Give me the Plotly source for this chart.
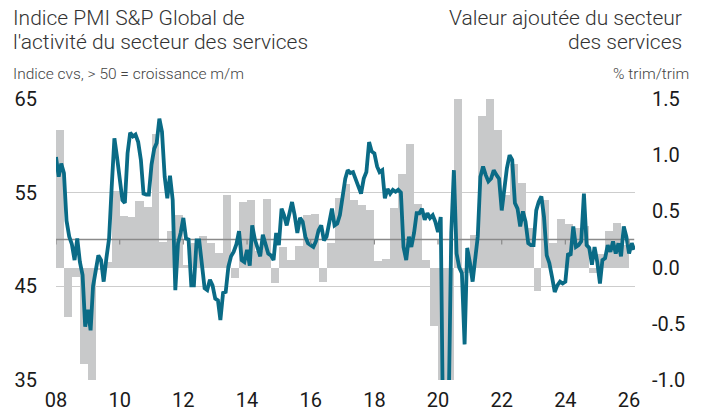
import pandas as pd
import plotly.graph_objects as go

# ---------------- data ----------------
pmi_start = "2008-01-01"
pmi_values = [
    # 2008
    58.8, 56.7, 58.1, 57.1, 52.0, 50.3, 49.5, 47.8, 50.1, 47.6, 46.2, 40.7,
    # 2009
    42.5, 40.3, 45.0, 47.0, 48.3, 47.8, 45.5, 48.0, 50.1, 55.6, 60.8, 58.8,
    # 2010
    56.5, 54.2, 53.9, 59.2, 61.4, 61.0, 61.2, 60.4, 58.5, 54.9, 54.8, 54.8,
    # 2011
    58.0, 59.7, 60.3, 62.9, 61.5, 56.7, 54.4, 56.8, 54.2, 44.6, 49.6, 50.7,
    # 2012
    52.3, 50.1, 50.0, 45.1, 45.1, 49.9, 49.9, 47.5, 44.8, 44.6, 45.7, 45.1,
    # 2013
    43.7, 43.5, 41.4, 44.3, 44.4, 47.1, 48.2, 48.7, 49.5, 50.9, 47.8, 47.6,
    # 2014
    48.9, 47.2, 51.5, 50.0, 49.0, 48.2, 50.5, 49.5, 48.5, 48.3, 47.8, 50.7,
    # 2015
    49.4, 53.3, 52.6, 51.5, 53.0, 54.0, 52.6, 50.7, 52.3, 51.9, 50.3, 49.6,
    # 2016
    49.4, 49.2, 49.8, 51.0, 51.5, 49.9, 50.3, 52.1, 53.3, 51.5, 51.7, 52.6,
    # 2017
    54.9, 56.5, 57.4, 57.1, 57.2, 56.5, 55.6, 54.9, 56.5, 57.2, 60.4, 59.4,
    # 2018
    59.2, 57.8, 57.2, 57.4, 54.4, 55.4, 54.9, 55.3, 55.1, 55.3, 55.0, 49.2,
    # 2019
    47.8, 50.3, 49.2, 50.7, 52.8, 52.8, 53.3, 52.1, 52.8, 52.3, 52.6, 51.9,
    # 2020
    50.8, 52.4, 27.4, 10.2, 31.1, 50.7, 57.4, 48.5, 47.0, 46.4, 38.8, 49.1,
    # 2021
    47.5, 45.5, 47.8, 50.3, 56.7, 57.8, 56.9, 56.2, 56.5, 57.4, 56.9, 56.5,
    # 2022
    53.1, 55.6, 57.6, 59.0, 58.5, 53.9, 53.3, 51.4, 53.0, 51.9, 49.6, 49.4,
    # 2023
    49.4, 53.1, 54.0, 54.6, 52.4, 48.3, 47.5, 46.0, 44.4, 45.1, 45.5, 45.3,
    # 2024
    45.5, 48.5, 48.3, 51.4, 49.2, 49.4, 49.8, 54.9, 49.4, 49.1, 47.3, 49.2,
    # 2025
    47.6, 45.3, 47.8, 48.0, 49.4, 48.7, 49.8, 48.5, 49.6, 48.2, 51.4, 50.3,
    # 2026
    48.5, 49.6, 48.9,
]

gva_start = "2008-01-01"
gva_values = [
    1.22, -0.44, -0.08, -0.86,   # 2008
    -1.05, -0.02, 0.05, 0.68,    # 2009
    0.46, 0.45, 0.59, 0.54,      # 2010
    1.19, 0.23, 0.33, 0.47,      # 2011
    0.02, 0.22, 0.28, 0.22,      # 2012
    0.13, 0.65, -0.09, 0.58,     # 2013
    0.60, 0.15, 0.61, -0.14,     # 2014
    0.18, 0.07, 0.19, 0.47,      # 2015
    0.48, -0.13, 0.22, 0.62,     # 2016
    0.74, 0.60, 0.56, 0.51,      # 2017
    0.06, 0.08, 0.53, 0.83,      # 2018
    1.10, 0.57, 0.07, -0.52,     # 2019
    -5.8, -13.5, 17.5, -0.05,    # 2020
    0.29, 1.35, 1.70, 1.22,      # 2021
    0.65, 0.92, 0.75, 0.35,      # 2022
    -0.21, 0.60, 0.22, 0.43,     # 2023
    0.39, 0.35, 0.37, -0.05,     # 2024
    0.12, 0.33, 0.40, 0.20,      # 2025
]

threshold = 50
tick_years = list(range(2008, 2027, 2))
tick_labels = [f"{y % 100:02d}" for y in tick_years]
left_ticks = [35, 45, 55, 65]
left_labels = ["35", "45", "55", "65"]
right_ticks = [-1.0, -0.5, 0.0, 0.5, 1.0, 1.5]
right_labels = ["-1.0", "-0.5", "0.0", "0.5", "1.0", "1.5"]

# ---------------- derived ----------------
months = pd.date_range(pmi_start, periods=len(pmi_values), freq="MS")
q_start = pd.date_range(gva_start, periods=len(gva_values), freq="QS")
q_end = q_start + pd.offsets.QuarterBegin(startingMonth=1)
q_mid = q_start + (q_end - q_start) / 2
q_width = [(e - s).total_seconds() * 1000 for s, e in zip(q_start, q_end)]
tick_dates = [pd.Timestamp(f"{y}-01-01") for y in tick_years]

TEAL = "#0a6b86"
BARGREY = "#c8c9ca"
GRID = "#cdcdcd"
FONT = "Roboto"

W, H = 707, 416
L, R, T, B = 56, 72, 99, 36
PW, PH = W - L - R, H - T - B


def px(x):
    return (x - L) / PW


def py(y):
    return (H - B - y) / PH


fig = go.Figure()

fig.add_trace(go.Bar(
    x=q_mid, y=gva_values, width=q_width,
    marker=dict(color=BARGREY, line=dict(width=0)),
    yaxis="y", hoverinfo="skip", showlegend=False,
))

fig.add_trace(go.Scatter(
    x=[months[0], months[-1]], y=[threshold, threshold],
    mode="lines", line=dict(color="#8a8a8a", width=1.4),
    yaxis="y2", hoverinfo="skip", showlegend=False,
))

fig.add_trace(go.Scatter(
    x=months, y=pmi_values, mode="lines",
    line=dict(color=TEAL, width=3.8),
    yaxis="y2", hoverinfo="skip", showlegend=False,
))

# small ticks on the 50 line
for d in tick_dates:
    fig.add_shape(type="line", xref="x", yref="y2", x0=d, x1=d,
                  ysizemode="pixel", yanchor=threshold, y0=0, y1=-5,
                  line=dict(color="#8a8a8a", width=1.2), layer="above")

tickfont = dict(size=20, color="#1a1a1a", family=FONT)
fig.update_layout(
    width=W, height=H,
    margin=dict(l=L, r=R, t=T, b=B, autoexpand=False),
    paper_bgcolor="white", plot_bgcolor="white",
    bargap=0, showlegend=False,
    font=dict(family=FONT, color="#222222"),
    xaxis=dict(
        type="date", range=["2008-01-01", "2026-03-10"],
        tickvals=tick_dates, ticktext=tick_labels,
        showgrid=False, zeroline=False, showline=False, ticks="",
        tickfont=tickfont, ticklabelstandoff=6, automargin=False,
    ),
    yaxis=dict(
        side="right", range=[-1.0, 1.5],
        tickvals=right_ticks, ticktext=right_labels,
        showgrid=False, zeroline=False, showline=False, ticks="",
        tickfont=tickfont, ticklabelstandoff=16, automargin=False,
    ),
    yaxis2=dict(
        side="left", overlaying="y", range=[35, 65],
        tickvals=left_ticks, ticktext=left_labels,
        showgrid=True, gridcolor=GRID, gridwidth=1,
        zeroline=False, showline=False, ticks="",
        tickfont=tickfont, ticklabelstandoff=18, automargin=False,
    ),
)

ann = [
    ("Indice PMI S&P Global de", 12, 18, "left", 21, "#333333"),
    ("l'activité du secteur des services", 12, 42, "left", 21, "#333333"),
    ("Indice cvs, > 50 = croissance m/m", 12, 74, "left", 15.5, "#444444"),
    ("Valeur ajoutée du secteur", 683, 18, "right", 21, "#333333"),
    ("des services", 683, 42, "right", 21, "#333333"),
    ("% trim/trim", 690, 74, "right", 15.5, "#444444"),
]
for text, x, y, anchor, size, color in ann:
    fig.add_annotation(text=text, xref="paper", yref="paper",
                       x=px(x), y=py(y), xanchor=anchor, yanchor="middle",
                       showarrow=False,
                       font=dict(size=size, color=color, family=FONT, weight=300),
                       borderpad=0)

fig.write_html("out.html",
               config={"displayModeBar": False, "staticPlot": True},
               post_script="document.body.style.margin='0px';"
                           "document.body.style.overflow='hidden';")
